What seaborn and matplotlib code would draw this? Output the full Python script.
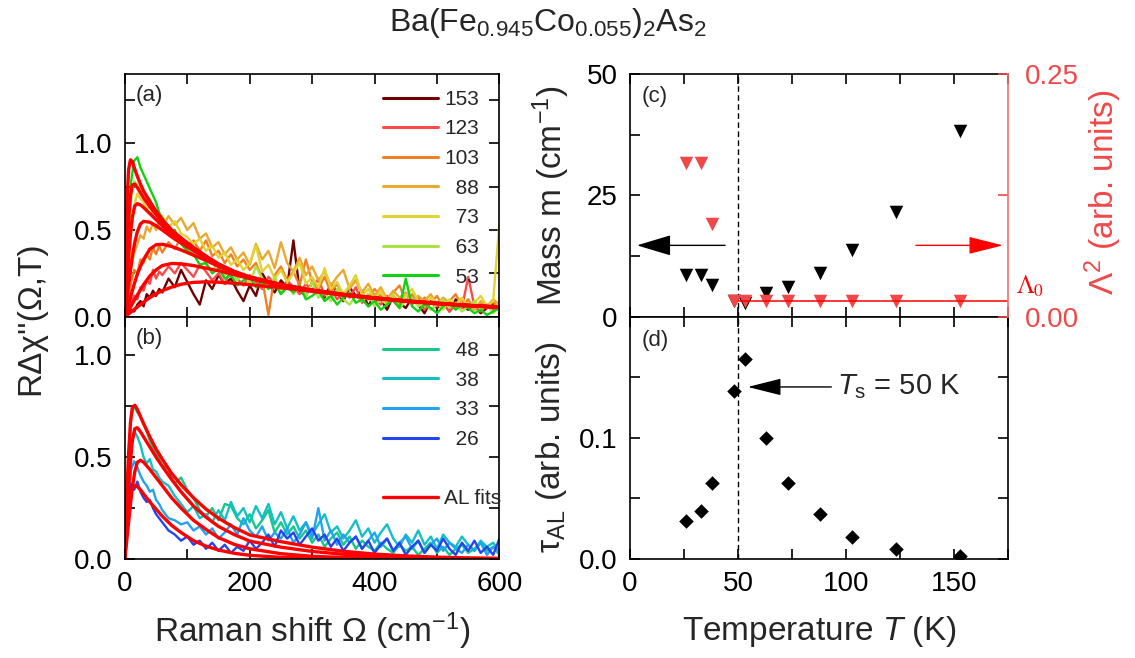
import numpy as np
import pandas as pd
import matplotlib
matplotlib.use("Agg")
import matplotlib.pyplot as plt
from matplotlib.lines import Line2D
import seaborn as sns

# ---------------- data ----------------
# Raman shift grid of the measured spectra (cm^-1)
omega = list(range(0, 61, 5)) + list(range(70, 601, 10))

temps_a = [153, 123, 103, 88, 73, 63, 53]
temps_b = [48, 38, 33, 26]

spec_153 = [0.00, 0.02, 0.04, 0.03, 0.07, 0.09, 0.06, 0.13, 0.11, 0.15, 0.12, 0.16, 0.14,
            0.22, 0.17, 0.27, 0.20, 0.13, 0.07, 0.21, 0.16, 0.24, 0.19,
            0.22, 0.15, 0.09, 0.18, 0.12, 0.25, 0.19, 0.14, 0.21, 0.17,
            0.44, 0.15, 0.12, 0.20, 0.16, 0.11, 0.19, 0.14, 0.09, 0.17,
            0.12, 0.15, 0.06, 0.13, 0.10, 0.04, 0.12, 0.08, 0.05, 0.11,
            0.07, 0.02, 0.09, 0.05, 0.08, 0.03, 0.10, 0.06, 0.04, 0.07,
            0.02, 0.05, 0.08, 0.04]
spec_123 = [0.00, 0.03, 0.08, 0.12, 0.10, 0.17, 0.15, 0.21, 0.19, 0.27, 0.22, 0.26, 0.24,
            0.29, 0.25, 0.31, 0.27, 0.23, 0.30, 0.26, 0.21, 0.25, 0.19,
            0.27, 0.22, 0.18, 0.24, 0.20, 0.16, 0.23, 0.19, 0.14, 0.21,
            0.17, 0.13, 0.19, 0.15, 0.22, 0.12, 0.16, 0.10, 0.14, 0.11,
            0.17, 0.08, 0.13, 0.10, 0.07, 0.12, 0.09, 0.05, 0.10, 0.07,
            0.11, 0.04, 0.08, 0.06, 0.09, 0.03, 0.07, 0.05, 0.23, 0.06,
            0.03, 0.07, 0.04, 0.06]
spec_103 = [0.00, 0.08, 0.20, 0.27, 0.25, 0.33, 0.31, 0.36, 0.33, 0.40, 0.36, 0.41, 0.37,
            0.43, 0.39, 0.46, 0.41, 0.44, 0.38, 0.44, 0.35, 0.38, 0.31,
            0.36, 0.29, 0.33, 0.27, 0.31, 0.22, 0.01, 0.24, 0.29, 0.21,
            0.26, 0.18, 0.33, 0.20, 0.16, 0.23, 0.14, 0.19, 0.12, 0.17,
            0.21, 0.13, 0.10, 0.16, 0.12, 0.08, 0.14, 0.18, 0.09, 0.13,
            0.06, 0.11, 0.08, 0.12, 0.05, 0.09, 0.13, 0.06, 0.10, 0.04,
            0.08, 0.05, 0.09, 0.03]
spec_88 = [0.00, 0.12, 0.28, 0.37, 0.42, 0.47, 0.45, 0.52, 0.49, 0.54, 0.50, 0.56, 0.52,
           0.58, 0.53, 0.57, 0.50, 0.54, 0.45, 0.48, 0.40, 0.43, 0.36,
           0.40, 0.33, 0.37, 0.30, 0.42, 0.33, 0.38, 0.28, 0.43, 0.31,
           0.26, 0.34, 0.24, 0.29, 0.21, 0.26, 0.18, 0.23, 0.27, 0.16,
           0.21, 0.14, 0.19, 0.12, 0.17, 0.10, 0.15, 0.11, 0.14, 0.08,
           0.12, 0.09, 0.13, 0.07, 0.11, 0.08, 0.05, 0.10, 0.07, 0.04,
           0.09, 0.06, 0.10, 0.07]
spec_73 = [0.00, 0.20, 0.48, 0.64, 0.71, 0.68, 0.66, 0.62, 0.64, 0.59, 0.61, 0.56, 0.58,
           0.52, 0.55, 0.48, 0.46, 0.42, 0.45, 0.38, 0.41, 0.34, 0.37,
           0.30, 0.33, 0.27, 0.31, 0.41, 0.26, 0.30, 0.22, 0.27, 0.20,
           0.25, 0.31, 0.19, 0.23, 0.17, 0.28, 0.16, 0.20, 0.13, 0.18,
           0.24, 0.12, 0.16, 0.10, 0.15, 0.09, 0.13, 0.07, 0.12, 0.16,
           0.09, 0.06, 0.11, 0.08, 0.04, 0.10, 0.07, 0.11, 0.05, 0.08,
           0.12, 0.06, 0.09, 0.54]
spec_63 = [0.00, 0.35, 0.68, 0.78, 0.76, 0.74, 0.70, 0.66, 0.68, 0.62, 0.60, 0.57, 0.52,
           0.49, 0.44, 0.46, 0.38, 0.35, 0.37, 0.30, 0.27, 0.31, 0.24,
           0.27, 0.21, 0.25, 0.19, 0.29, 0.22, 0.17, 0.23, 0.15, 0.19,
           0.13, 0.17, 0.12, 0.20, 0.11, 0.14, 0.09, 0.16, 0.10, 0.07,
           0.12, 0.09, 0.13, 0.06, 0.10, 0.07, 0.12, 0.05, 0.09, 0.11,
           0.06, 0.08, 0.04, 0.07, 0.10, 0.05, 0.08, 0.03, 0.06, 0.09,
           0.04, 0.07, 0.02, 0.06]
spec_53 = [0.00, 0.45, 0.78, 0.90, 0.92, 0.86, 0.82, 0.78, 0.74, 0.70, 0.66, 0.60, 0.57,
           0.50, 0.50, 0.42, 0.38, 0.36, 0.30, 0.31, 0.25, 0.28, 0.22,
           0.24, 0.18, 0.21, 0.23, 0.17, 0.20, 0.16, 0.19, 0.13, 0.17,
           0.14, 0.18, 0.10, 0.12, 0.15, 0.09, 0.12, 0.07, 0.11, 0.14,
           0.08, 0.10, 0.06, 0.09, 0.04, 0.07, 0.10, 0.05, 0.22, 0.06,
           0.03, 0.07, 0.05, 0.02, 0.06, 0.08, 0.04, 0.07, 0.05, 0.02,
           0.04, 0.01, 0.03, 0.05]
spec_48 = [0.00, 0.42, 0.70, 0.75, 0.72, 0.70, 0.66, 0.63, 0.58, 0.55, 0.52, 0.49, 0.46,
           0.44, 0.37, 0.40, 0.34, 0.30, 0.24, 0.21, 0.25, 0.19, 0.27,
           0.26, 0.20, 0.17, 0.22, 0.15, 0.19, 0.24, 0.13, 0.18, 0.12,
           0.16, 0.10, 0.14, 0.08, 0.12, 0.06, 0.10, 0.13, 0.07, 0.11,
           0.05, 0.09, 0.06, 0.04, 0.08, 0.05, 0.03, 0.07, 0.04, 0.06,
           0.02, 0.05, 0.08, 0.03, 0.06, 0.02, 0.05, 0.07, 0.03, 0.05,
           0.08, 0.04, 0.06, 0.02]
spec_38 = [0.00, 0.30, 0.55, 0.63, 0.60, 0.56, 0.50, 0.47, 0.49, 0.44, 0.43, 0.40, 0.38,
           0.36, 0.31, 0.27, 0.23, 0.26, 0.20, 0.22, 0.18, 0.24, 0.19,
           0.28, 0.21, 0.25, 0.18, 0.26, 0.20, 0.27, 0.17, 0.23, 0.15,
           0.21, 0.14, 0.18, 0.12, 0.17, 0.22, 0.13, 0.16, 0.10, 0.14,
           0.19, 0.11, 0.15, 0.08, 0.13, 0.17, 0.10, 0.06, 0.12, 0.08,
           0.14, 0.07, 0.11, 0.05, 0.12, 0.08, 0.06, 0.11, 0.07, 0.04,
           0.09, 0.06, 0.08, 0.04]
spec_33 = [0.00, 0.25, 0.44, 0.48, 0.45, 0.41, 0.38, 0.36, 0.33, 0.34, 0.29, 0.27, 0.24,
           0.20, 0.19, 0.17, 0.18, 0.14, 0.16, 0.12, 0.15, 0.10, 0.13,
           0.17, 0.12, 0.20, 0.14, 0.11, 0.16, 0.09, 0.13, 0.10, 0.15,
           0.08, 0.12, 0.18, 0.10, 0.25, 0.09, 0.14, 0.07, 0.12, 0.08,
           0.11, 0.05, 0.09, 0.13, 0.06, 0.10, 0.04, 0.08, 0.11, 0.05,
           0.09, 0.03, 0.07, 0.10, 0.04, 0.08, 0.05, 0.03, 0.07, 0.04,
           0.08, 0.02, 0.06, 0.03]
spec_26 = [0.00, 0.28, 0.37, 0.34, 0.38, 0.33, 0.30, 0.28, 0.29, 0.25, 0.22, 0.20, 0.18,
           0.14, 0.12, 0.09, 0.11, 0.07, 0.09, 0.05, 0.08, 0.04, 0.07,
           0.03, 0.06, 0.04, 0.09, 0.05, 0.08, 0.12, 0.06, 0.14, 0.10,
           0.13, 0.07, 0.11, 0.15, 0.09, 0.12, 0.06, 0.10, 0.04, 0.08,
           0.11, 0.05, 0.09, 0.03, 0.07, 0.10, 0.04, 0.08, 0.02, 0.06,
           0.09, 0.03, 0.07, 0.04, 0.10, 0.05, 0.02, 0.08, 0.04, 0.09,
           0.03, 0.06, 0.02, 0.10]

# Aslamazov-Larkin fit curves, sampled on their own grid
omega_fit = [0, 2, 4, 6, 9, 12, 16, 20, 25, 30, 40, 50, 60, 75, 90, 110, 130,
             150, 175, 200, 250, 300, 350, 400, 450, 500, 550, 600]
fit_53 = [0, 0.42, 0.70, 0.85, 0.905, 0.895, 0.85, 0.81, 0.765, 0.725, 0.665, 0.61, 0.56, 0.50,
          0.455, 0.40, 0.35, 0.305, 0.262, 0.23, 0.186, 0.154, 0.129, 0.109, 0.092, 0.078, 0.066, 0.056]
fit_63 = [0, 0.22, 0.42, 0.57, 0.70, 0.76, 0.765, 0.745, 0.715, 0.685, 0.635, 0.59, 0.545, 0.49,
          0.447, 0.395, 0.347, 0.302, 0.26, 0.228, 0.185, 0.153, 0.128, 0.108, 0.091, 0.077, 0.065, 0.055]
fit_73 = [0, 0.12, 0.24, 0.35, 0.48, 0.575, 0.64, 0.652, 0.645, 0.63, 0.595, 0.56, 0.525, 0.475,
          0.435, 0.388, 0.342, 0.30, 0.258, 0.227, 0.184, 0.152, 0.128, 0.108, 0.091, 0.077, 0.065, 0.055]
fit_88 = [0, 0.06, 0.12, 0.18, 0.27, 0.35, 0.43, 0.49, 0.535, 0.55, 0.545, 0.525, 0.50, 0.46,
          0.425, 0.38, 0.337, 0.297, 0.256, 0.226, 0.183, 0.151, 0.127, 0.107, 0.090, 0.076, 0.064, 0.054]
fit_103 = [0, 0.025, 0.05, 0.075, 0.11, 0.15, 0.20, 0.245, 0.29, 0.33, 0.39, 0.415, 0.418, 0.405,
           0.385, 0.355, 0.325, 0.29, 0.252, 0.224, 0.181, 0.150, 0.126, 0.106, 0.090, 0.076, 0.064, 0.054]
fit_123 = [0, 0.012, 0.025, 0.037, 0.055, 0.075, 0.10, 0.125, 0.155, 0.185, 0.235, 0.27, 0.295, 0.307,
           0.305, 0.295, 0.28, 0.265, 0.243, 0.22, 0.180, 0.149, 0.125, 0.105, 0.089, 0.075, 0.063, 0.053]
fit_153 = [0, 0.005, 0.01, 0.016, 0.024, 0.033, 0.045, 0.056, 0.07, 0.084, 0.11, 0.132, 0.15, 0.171,
           0.187, 0.198, 0.201, 0.199, 0.193, 0.185, 0.167, 0.146, 0.125, 0.106, 0.090, 0.077, 0.065, 0.055]
fit_48 = [0, 0.20, 0.38, 0.52, 0.67, 0.745, 0.755, 0.735, 0.70, 0.665, 0.60, 0.54, 0.49, 0.42,
          0.365, 0.30, 0.245, 0.20, 0.155, 0.118, 0.085, 0.058, 0.038, 0.024, 0.015, 0.009, 0.005, 0.003]
fit_38 = [0, 0.12, 0.24, 0.35, 0.48, 0.58, 0.64, 0.645, 0.625, 0.60, 0.55, 0.50, 0.455, 0.39,
          0.33, 0.26, 0.205, 0.16, 0.12, 0.088, 0.058, 0.037, 0.023, 0.014, 0.008, 0.005, 0.003, 0.002]
fit_33 = [0, 0.06, 0.12, 0.18, 0.27, 0.35, 0.43, 0.475, 0.485, 0.475, 0.44, 0.40, 0.36, 0.30,
          0.25, 0.19, 0.145, 0.105, 0.072, 0.05, 0.026, 0.013, 0.007, 0.004, 0.002, 0.001, 0.001, 0.0]
fit_26 = [0, 0.10, 0.19, 0.26, 0.32, 0.35, 0.36, 0.355, 0.34, 0.32, 0.28, 0.245, 0.21, 0.165,
          0.13, 0.09, 0.063, 0.044, 0.028, 0.018, 0.008, 0.004, 0.002, 0.001, 0.0, 0.0, 0.0, 0.0]

# fit parameters versus temperature
T_fit = [26, 33, 38, 48, 53, 63, 73, 88, 103, 123, 153]
mass = [8.6, 8.6, 6.6, 3.2, 2.8, 4.8, 6.1, 9.0, 13.8, 21.6, 38.3]
lambda2 = [0.158, 0.158, 0.095, 0.0165, 0.0165, 0.0165, 0.0165, 0.0165, 0.0165, 0.0165, 0.0165]
tau_al = [0.031, 0.040, 0.063, 0.139, 0.165, 0.100, 0.063, 0.037, 0.018, 0.0085, 0.0025]
lambda0 = 0.0157
T_s = 50

colors = {153: "#700000", 123: "#ff4848", 103: "#f08024", 88: "#e8a832",
          73: "#e2d234", 63: "#aae444", 53: "#12d012",
          48: "#14c888", 38: "#12c0c4", 33: "#22a2f2", 26: "#2444f0"}
RED = "#ff0000"
LRED = "#f04848"

spectra = {153: spec_153, 123: spec_123, 103: spec_103, 88: spec_88, 73: spec_73,
           63: spec_63, 53: spec_53, 48: spec_48, 38: spec_38, 33: spec_33, 26: spec_26}
fits = {153: fit_153, 123: fit_123, 103: fit_103, 88: fit_88, 73: fit_73,
        63: fit_63, 53: fit_53, 48: fit_48, 38: fit_38, 33: fit_33, 26: fit_26}


def long_frame(table, grid, temps):
    return pd.DataFrame({
        "omega": np.concatenate([grid] * len(temps)),
        "chi": np.concatenate([table[t] for t in temps]),
        "T": np.repeat(temps, len(grid)),
    })


# ---------------- style ----------------
sns.set_theme(style="ticks")
FONT = ["Liberation Sans", "DejaVu Sans"]
plt.rcParams.update({
    "font.family": FONT,
    "mathtext.fontset": "custom",
    "mathtext.rm": "Liberation Sans",
    "mathtext.it": "Liberation Sans:italic",
    "mathtext.bf": "Liberation Sans:bold",
    "axes.linewidth": 1.2,
    "axes.edgecolor": "black",
})

fig = plt.figure(figsize=(11.35, 6.58), dpi=100)
axA = fig.add_axes([0.110, 0.5187, 0.330, 0.3688])
axB = fig.add_axes([0.110, 0.1505, 0.330, 0.3682])
axC = fig.add_axes([0.5551, 0.5187, 0.3330, 0.3688])
axD = fig.add_axes([0.5551, 0.1505, 0.3330, 0.3682])


def style(ax, xt, xl, yt, yl, xlim, ylim):
    ax.set_xlim(*xlim)
    ax.set_ylim(*ylim)
    ax.set_xticks(xt)
    ax.set_xticklabels(xl)
    ax.set_yticks(yt)
    ax.set_yticklabels(yl)
    ax.tick_params(which="both", direction="in", top=True, right=True,
                   length=7, width=1.2, labelsize=20, colors="black")
    ax.tick_params(axis="y", pad=9)
    ax.tick_params(axis="x", pad=9)
    ax.set_xlabel("")
    ax.set_ylabel("")
    for s in ax.spines.values():
        s.set_color("black")
        s.set_linewidth(1.2)


# ---------------- panels (a) and (b): spectra and fits ----------------
for ax, temps in ((axA, temps_a), (axB, temps_b)):
    sns.lineplot(data=long_frame(spectra, omega, temps), x="omega", y="chi",
                 hue="T", hue_order=temps, palette=colors, estimator=None,
                 sort=False, lw=1.7, legend=False, ax=ax)
    sns.lineplot(data=long_frame(fits, omega_fit, temps), x="omega", y="chi",
                 units="T", color=RED, estimator=None, sort=False, lw=2.4,
                 legend=False, ax=ax)

xt_raman = list(range(0, 601, 100))
style(axA, xt_raman, [""] * 7, [0, 0.25, 0.5, 0.75, 1.0, 1.25],
      ["0.0", "", "0.5", "", "1.0", ""], (0, 600), (0, 1.40))
style(axB, xt_raman, ["0", "", "200", "", "400", "", "600"], [0, 0.25, 0.5, 0.75, 1.0],
      ["0.0", "", "0.5", "", "1.0"], (0, 600), (0, 1.19))

FS = "\u2007"
legend_kw = dict(loc="upper left", frameon=False, fontsize=15, handlelength=2.65,
                 handletextpad=0.3, labelspacing=0.51, borderpad=0, borderaxespad=0)
handles_a = [Line2D([], [], color=colors[t], lw=2.2) for t in temps_a]
labels_a = [str(t) if t >= 100 else FS + str(t) for t in temps_a]
axA.legend(handles_a, labels_a, bbox_to_anchor=(0.688, 0.935), **legend_kw)
handles_b = [Line2D([], [], color=colors[t], lw=2.2) for t in temps_b]
handles_b += [Line2D([], [], color="none"), Line2D([], [], color=RED, lw=2.4)]
labels_b = [FS + str(t) for t in temps_b] + [" ", "AL fits"]
axB.legend(handles_b, labels_b, bbox_to_anchor=(0.688, 0.899), **legend_kw)

axA.text(0.028, 0.955, "(a)", transform=axA.transAxes, va="top", ha="left", fontsize=16)
axB.text(0.028, 0.955, "(b)", transform=axB.transAxes, va="top", ha="left", fontsize=16)

# ---------------- panel (c): mass and coupling ----------------
axC2 = axC.twinx()
sns.scatterplot(x=T_fit, y=mass, marker="v", s=95, color="black", linewidth=0, ax=axC)
sns.scatterplot(x=T_fit, y=lambda2, marker="v", s=95, color=LRED, linewidth=0, ax=axC2)
axC2.hlines(lambda0, T_s, 175, color=RED, lw=1.1, zorder=1)
axC.axvline(T_s, color="black", ls=(0, (4, 2.5)), lw=1.0)

xt_T = list(range(0, 176, 25))
style(axC, xt_T, [""] * 8, [0, 12.5, 25, 37.5, 50], ["0", "", "25", "", "50"], (0, 175), (0, 50))
axC.tick_params(right=False)
axC.spines["right"].set_visible(False)
axC2.set_ylim(0, 0.25)
axC2.set_yticks([0, 0.125, 0.25])
axC2.set_yticklabels(["0.00", "", "0.25"])
axC2.tick_params(axis="y", direction="in", length=7, width=1.2, labelsize=20,
                 colors=LRED, pad=12)
axC2.set_ylabel("")
for side in ("left", "top", "bottom"):
    axC2.spines[side].set_visible(False)
axC2.spines["right"].set_color("#f07070")
axC2.spines["right"].set_linewidth(1.2)

axC.annotate("", xy=(3.2, 14.7), xytext=(44, 14.7),
             arrowprops=dict(arrowstyle="-|>,head_length=0.6,head_width=0.18",
                             mutation_scale=36, color="black", lw=1.0,
                             shrinkA=0, shrinkB=0))
axC.annotate("", xy=(172.7, 14.7), xytext=(132.4, 14.7),
             arrowprops=dict(arrowstyle="-|>,head_length=0.6,head_width=0.15",
                             mutation_scale=36, color=RED, lw=1.0,
                             shrinkA=0, shrinkB=0))
axC.text(1.022, 0.125, r"$\Lambda_0$", transform=axC.transAxes, color=RED,
         fontsize=18, va="center", ha="left", math_fontfamily="stix")
axC.text(0.03, 0.95, "(c)", transform=axC.transAxes, va="top", ha="left", fontsize=16)

# ---------------- panel (d): AL lifetime ----------------
sns.scatterplot(x=T_fit, y=tau_al, marker="D", s=55, color="black", linewidth=0, ax=axD)
axD.axvline(T_s, color="black", ls=(0, (4, 2.5)), lw=1.0)
style(axD, xt_T, ["0", "", "50", "", "100", "", "150", ""],
      [0, 0.05, 0.1, 0.15, 0.2], ["0.0", "", "0.1", "", ""], (0, 175), (0, 0.2))
axD.annotate(r"$T_{\rm s}$ = 50 K", xy=(54.5, 0.142), xytext=(96, 0.142),
             fontsize=21, va="center", ha="left",
             arrowprops=dict(arrowstyle="-|>,head_length=0.6,head_width=0.15",
                             mutation_scale=35, color="black", lw=1.0,
                             shrinkA=2, shrinkB=0))
axD.text(0.03, 0.945, "(d)", transform=axD.transAxes, va="top", ha="left", fontsize=16)

# ---------------- labels ----------------
fig.text(0.483, 0.965, r"Ba(Fe$_{0.945}$Co$_{0.055}$)$_2$As$_2$", ha="center",
         va="center", fontsize=23)
fig.text(0.027, 0.517, "R\u0394\u03c7''(\u03a9,T)", rotation=90, ha="center",
         va="center", fontsize=24)
fig.text(0.275, 0.04, "Raman shift \u03a9 (cm$^{-1}$)", ha="center", va="center", fontsize=24)
fig.text(0.7217, 0.04, "Temperature $T$ (K)", ha="center", va="center", fontsize=24)
fig.text(0.486, 0.703, "Mass m (cm$^{-1}$)", rotation=90, ha="center", va="center", fontsize=24)
fig.text(0.486, 0.32, "\u03c4$_{\\rm AL}$ (arb. units)", rotation=90, ha="center",
         va="center", fontsize=24)
fig.text(0.972, 0.708, "\u039b$^2$ (arb. units)", rotation=90, ha="center",
         va="center", fontsize=24, color=LRED)

fig.savefig("out.png", dpi=100)
